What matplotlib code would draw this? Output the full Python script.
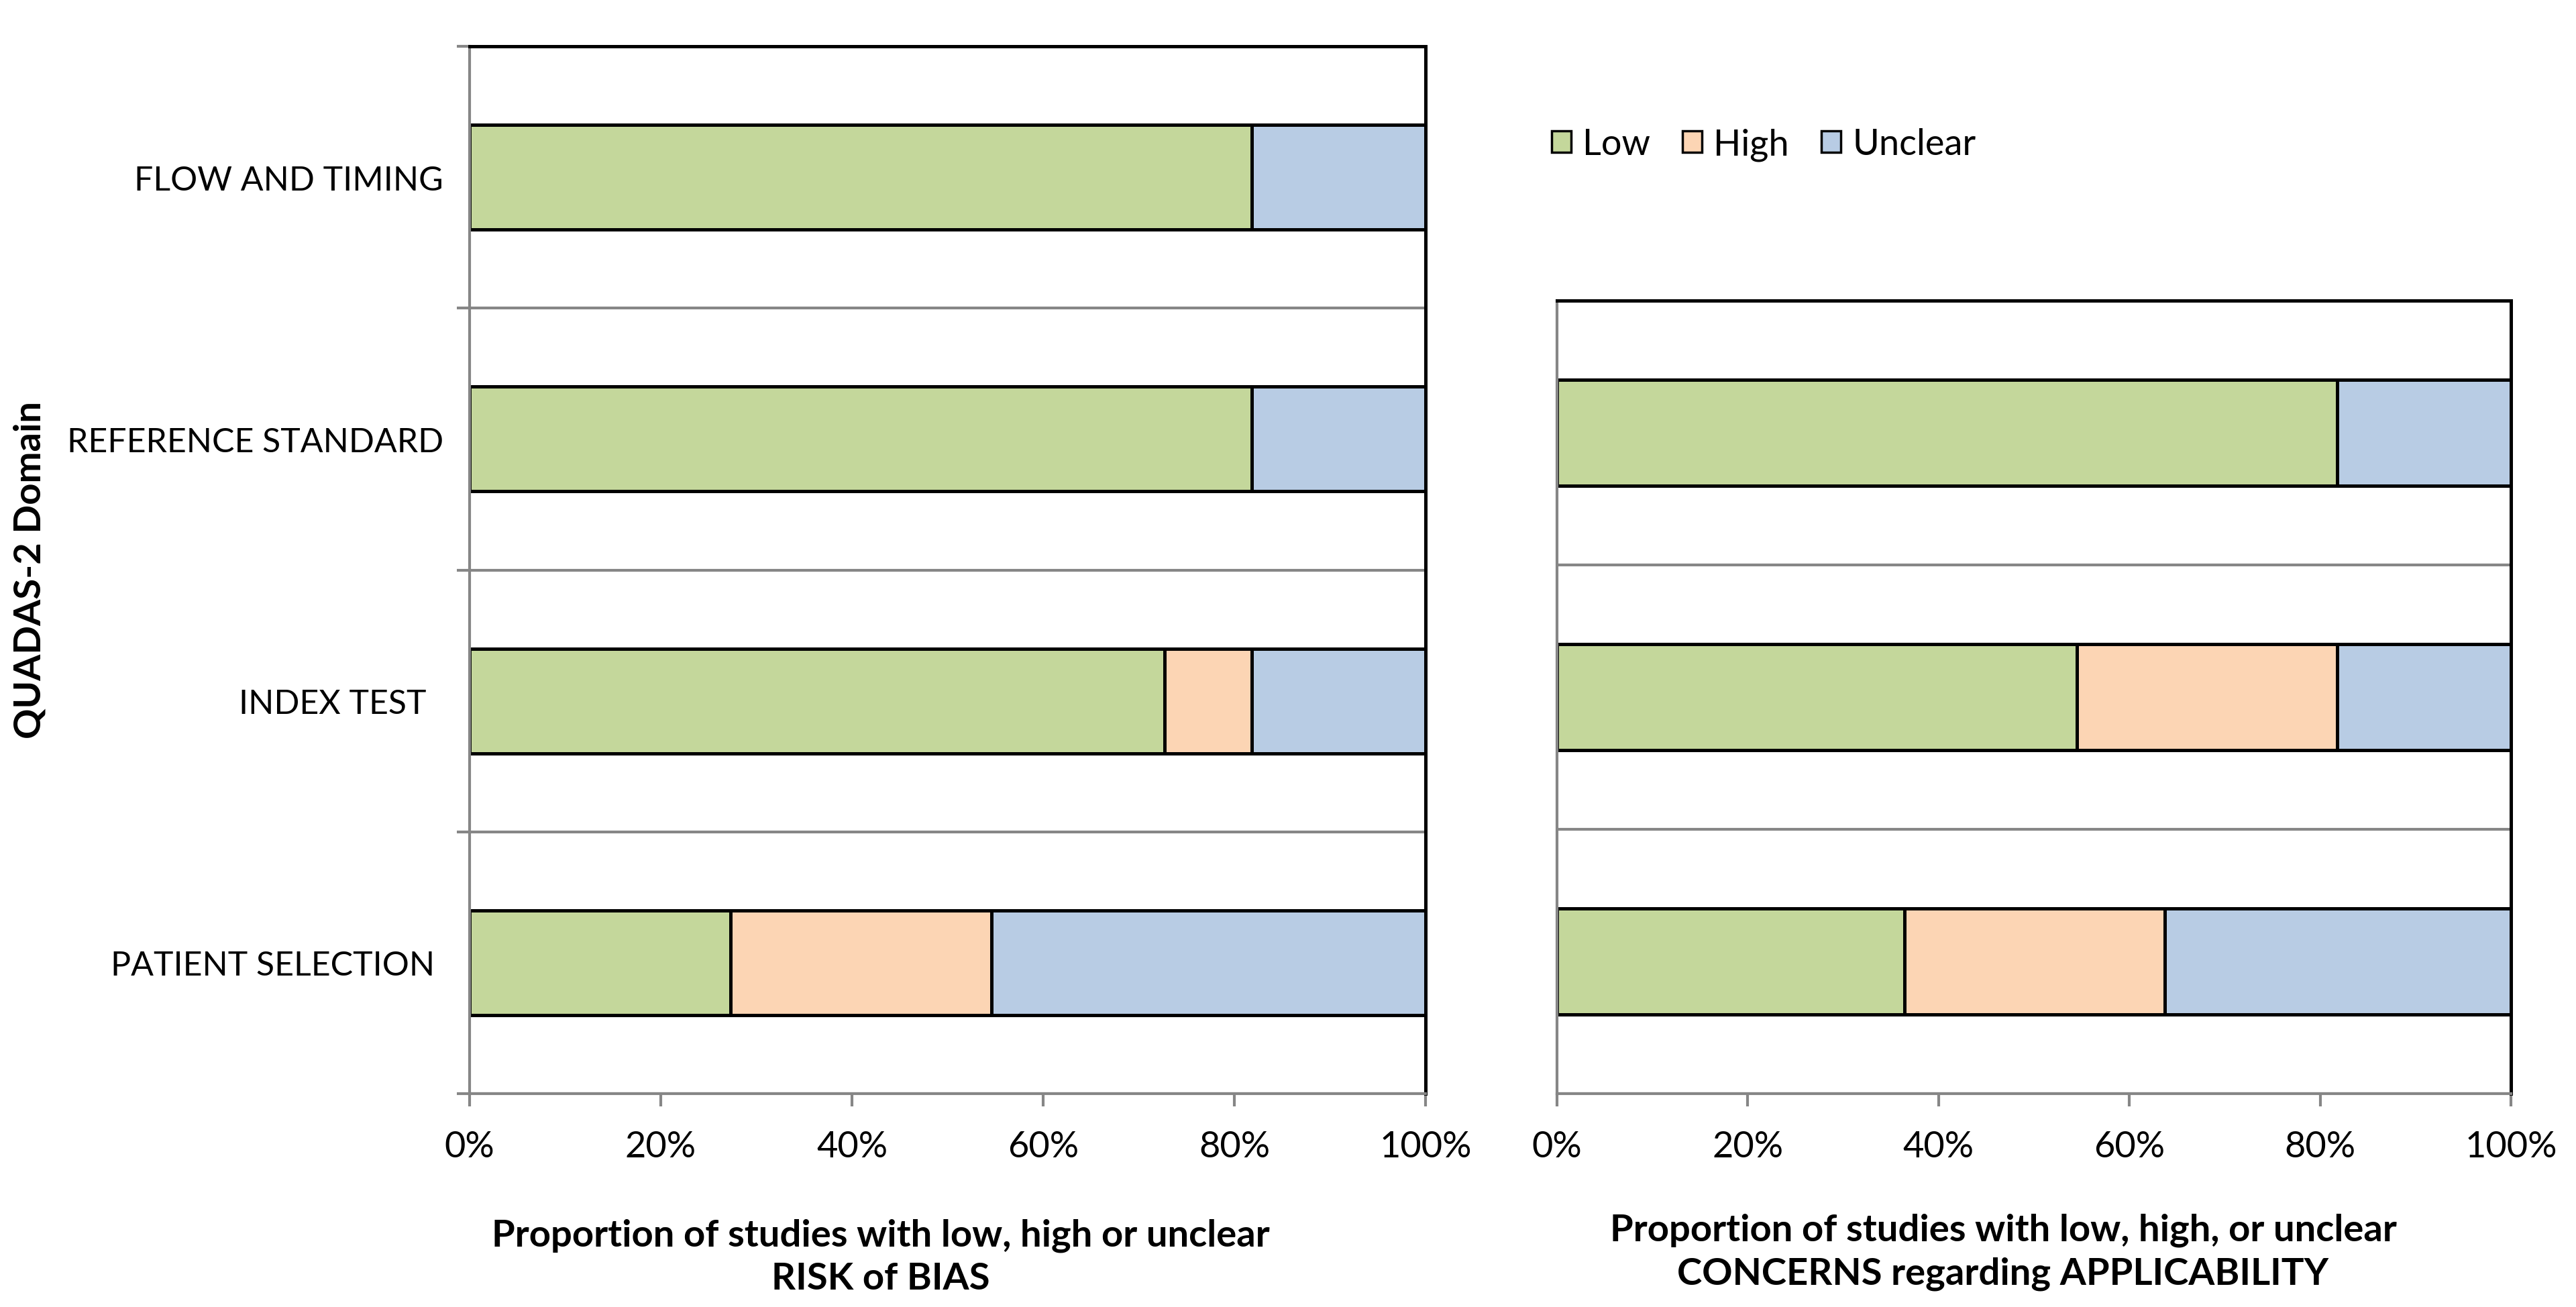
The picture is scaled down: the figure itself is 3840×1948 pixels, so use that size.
import matplotlib
matplotlib.use('Agg')
import matplotlib.pyplot as plt
from matplotlib.patches import Patch

plt.rcParams['font.family'] = ['Lato', 'DejaVu Sans']

# QUADAS-2 results, % of studies (n = 11)
bias_domains = ['PATIENT SELECTION ', 'INDEX TEST  ', 'REFERENCE STANDARD', 'FLOW AND TIMING']
bias_low = [27.3, 72.7, 81.8, 81.8]
bias_high = [27.3, 9.1, 0.0, 0.0]
bias_unclear = [45.4, 18.2, 18.2, 18.2]

appl_domains = ['PATIENT SELECTION', 'INDEX TEST', 'REFERENCE STANDARD']
appl_low = [36.4, 54.5, 81.8]
appl_high = [27.3, 27.3, 0.0]
appl_unclear = [36.3, 18.2, 18.2]

series_names = ['Low', 'High', 'Unclear']
colors = ['#C4D79B', '#FCD5B4', '#B8CCE4']
xticks = [0, 20, 40, 60, 80, 100]
xticklabels = ['0%', '20%', '40%', '60%', '80%', '100%']

gray = '#868686'
fs = 39
fs_cat = 36
fs_bold = 40.5

fig = plt.figure(figsize=(38.41, 19.49), dpi=100)
ax1 = fig.add_axes([700 / 3841, 1 - 1631 / 1949, 1425 / 3841, 1561 / 1949])
ax2 = fig.add_axes([2321 / 3841, 1 - 1631 / 1949, 1422 / 3841, 1182 / 1949])


def draw(ax, labels, low, high, unclear, show_labels):
    n = len(labels)
    ypos = list(range(n))
    left = [0.0] * n
    for vals, col in zip([low, high, unclear], colors):
        ax.barh(ypos, vals, left=left, height=0.4, color=col,
                edgecolor='black', linewidth=3.6, zorder=2)
        left = [a + b for a, b in zip(left, vals)]
    ax.set_xlim(0, 100)
    ax.set_ylim(-0.5, n - 0.5)
    ax.set_xticks(xticks)
    ax.set_xticklabels(xticklabels, fontsize=fs)
    ax.tick_params(axis='x', direction='out', length=13.7, width=3, color=gray, pad=25)
    ax.set_yticks(ypos)
    bounds = [i - 0.5 for i in range(n + 1)]
    ax.set_yticks(bounds, minor=True)
    if show_labels:
        ax.set_yticklabels(labels, fontsize=fs_cat)
        ax.tick_params(axis='y', which='major', length=0, pad=28)
        ax.tick_params(axis='y', which='minor', direction='out', length=13.7, width=3, color=gray)
    else:
        ax.set_yticklabels([])
        ax.tick_params(axis='y', which='both', length=0)
    ax.grid(axis='y', which='minor', color=gray, linewidth=3, zorder=1)
    ax.set_axisbelow(True)
    for side in ['left', 'bottom']:
        ax.spines[side].set_color(gray)
        ax.spines[side].set_linewidth(3)
        ax.spines[side].set_zorder(3)
    for side in ['top', 'right']:
        ax.spines[side].set_color('black')
        ax.spines[side].set_linewidth(3.6)
        ax.spines[side].set_zorder(3)


draw(ax1, bias_domains, bias_low, bias_high, bias_unclear, True)
draw(ax2, appl_domains, appl_low, appl_high, appl_unclear, False)

fig.text(0.3418, 0.0385, 'Proportion of studies with low, high or unclear\nRISK of BIAS',
         ha='center', va='center', fontsize=fs_bold, fontweight='bold', linespacing=1.35)
fig.text(0.7774, 0.0426, 'Proportion of studies with low, high, or unclear\nCONCERNS regarding APPLICABILITY',
         ha='center', va='center', fontsize=fs_bold, fontweight='bold', linespacing=1.35)
fig.text(0.0115, 0.564, 'QUADAS-2 Domain', rotation=90, ha='center', va='center',
         fontsize=fs_bold, fontweight='bold')

handles = [Patch(facecolor=c, edgecolor='black', linewidth=2.5, label=s)
           for c, s in zip(colors, series_names)]
fig.legend(handles=handles, loc='center left', bbox_to_anchor=(2313 / 3841, 1 - 216 / 1949),
           ncol=3, frameon=False, fontsize=fs, handlelength=0.54, handleheight=0.54,
           handletextpad=0.31, columnspacing=0.89, borderpad=0, borderaxespad=0)

fig.savefig('out.png', dpi=100)
